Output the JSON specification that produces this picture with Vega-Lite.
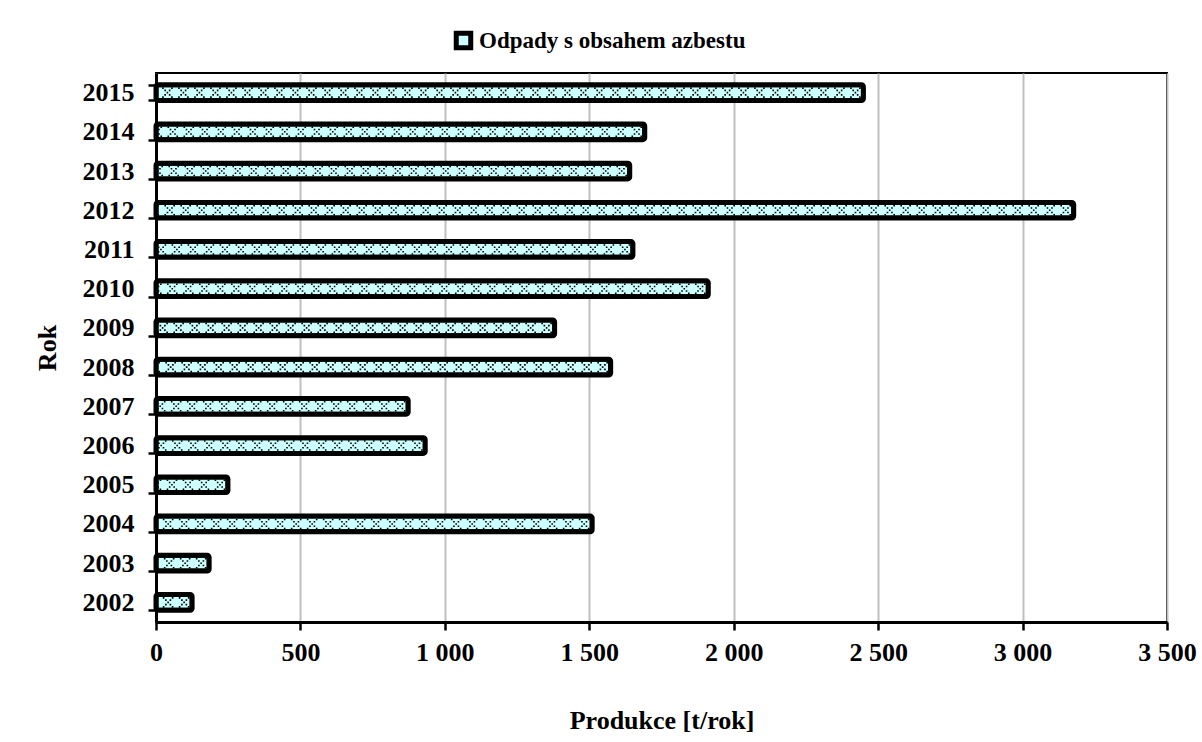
{
  "$schema": "https://vega.github.io/schema/vega-lite/v6.json",
  "autosize": "none",
  "width": 1011,
  "height": 549,
  "padding": {"left": 156, "top": 73, "right": 35, "bottom": 120},
  "background": "white",
  "config": {
    "font": "Liberation Serif",
    "view": {"stroke": "black", "strokeWidth": 2},
    "axis": {
      "labelFont": "Liberation Serif",
      "labelFontWeight": "bold",
      "labelFontSize": 26,
      "labelColor": "black",
      "titleFont": "Liberation Serif",
      "titleFontWeight": "bold",
      "titleFontSize": 26,
      "titleColor": "black",
      "domainColor": "black",
      "domainWidth": 3,
      "tickColor": "black",
      "tickWidth": 2.5,
      "tickSize": 8
    }
  },
  "data": {
    "values": [
      {"rok": "2002", "t": 125, "serie": "Odpady s obsahem azbestu"},
      {"rok": "2003", "t": 184, "serie": "Odpady s obsahem azbestu"},
      {"rok": "2004", "t": 1510, "serie": "Odpady s obsahem azbestu"},
      {"rok": "2005", "t": 249, "serie": "Odpady s obsahem azbestu"},
      {"rok": "2006", "t": 932, "serie": "Odpady s obsahem azbestu"},
      {"rok": "2007", "t": 873, "serie": "Odpady s obsahem azbestu"},
      {"rok": "2008", "t": 1574, "serie": "Odpady s obsahem azbestu"},
      {"rok": "2009", "t": 1380, "serie": "Odpady s obsahem azbestu"},
      {"rok": "2010", "t": 1912, "serie": "Odpady s obsahem azbestu"},
      {"rok": "2011", "t": 1651, "serie": "Odpady s obsahem azbestu"},
      {"rok": "2012", "t": 3177, "serie": "Odpady s obsahem azbestu"},
      {"rok": "2013", "t": 1640, "serie": "Odpady s obsahem azbestu"},
      {"rok": "2014", "t": 1692, "serie": "Odpady s obsahem azbestu"},
      {"rok": "2015", "t": 2449, "serie": "Odpady s obsahem azbestu"}
    ]
  },
  "encoding": {
    "y": {
      "field": "rok",
      "type": "ordinal",
      "sort": "descending",
      "scale": {"paddingInner": 0.6, "paddingOuter": 0.3},
      "axis": {
        "title": "Rok",
        "tickBand": "extent",
        "labelPadding": 14,
        "titlePadding": 22,
        "grid": false
      }
    },
    "x": {
      "field": "t",
      "type": "quantitative",
      "scale": {"domain": [0, 3500], "nice": false, "zero": true},
      "axis": {
        "title": "Produkce [t/rok]",
        "values": [0, 500, 1000, 1500, 2000, 2500, 3000, 3500],
        "labelExpr": "replace(format(datum.value, ',d'), ',', ' ')",
        "grid": true,
        "gridColor": "#c0c0c0",
        "gridWidth": 2,
        "labelPadding": 9,
        "titlePadding": 42,
        "labelFlush": false
      }
    }
  },
  "layer": [
    {
      "mark": {"type": "bar", "stroke": "black", "strokeWidth": 5, "cornerRadius": 2},
      "encoding": {
        "fill": {
          "field": "serie",
          "type": "nominal",
          "scale": {"range": ["#CCFFFF"]},
          "legend": {
            "title": null,
            "orient": "none",
            "legendX": 296,
            "legendY": -44,
            "symbolType": "square",
            "symbolSize": 210,
            "symbolStrokeColor": "black",
            "symbolStrokeWidth": 5,
            "symbolFillColor": "#CCFFFF",
            "labelFont": "Liberation Serif",
            "labelFontWeight": "bold",
            "labelFontSize": 23,
            "labelColor": "black",
            "labelOffset": 4,
            "labelLimit": 0
          }
        }
      }
    },
    {
      "mark": {"type": "rule", "color": "black", "strokeWidth": 1.6, "strokeDash": [0, 7.2, 1.6, 7.2]},
      "encoding": {"x2": {"datum": 0}}
    },
    {
      "mark": {"type": "rule", "color": "black", "strokeWidth": 1.6, "yOffset": -2.25, "strokeDash": [0, 4.95, 1.6, 2.9, 1.6, 4.95]},
      "encoding": {"x2": {"datum": 0}}
    },
    {
      "mark": {"type": "rule", "color": "black", "strokeWidth": 1.6, "yOffset": 2.25, "strokeDash": [0, 4.95, 1.6, 2.9, 1.6, 4.95]},
      "encoding": {"x2": {"datum": 0}}
    },
    {
      "mark": {"type": "rule", "color": "black", "strokeWidth": 1.6, "yOffset": -4.5, "strokeDash": [0, 2.7, 1.6, 7.4, 1.6, 2.7]},
      "encoding": {"x2": {"datum": 0}}
    },
    {
      "mark": {"type": "rule", "color": "black", "strokeWidth": 1.6, "yOffset": 4.5, "strokeDash": [0, 2.7, 1.6, 7.4, 1.6, 2.7]},
      "encoding": {"x2": {"datum": 0}}
    }
  ]
}
